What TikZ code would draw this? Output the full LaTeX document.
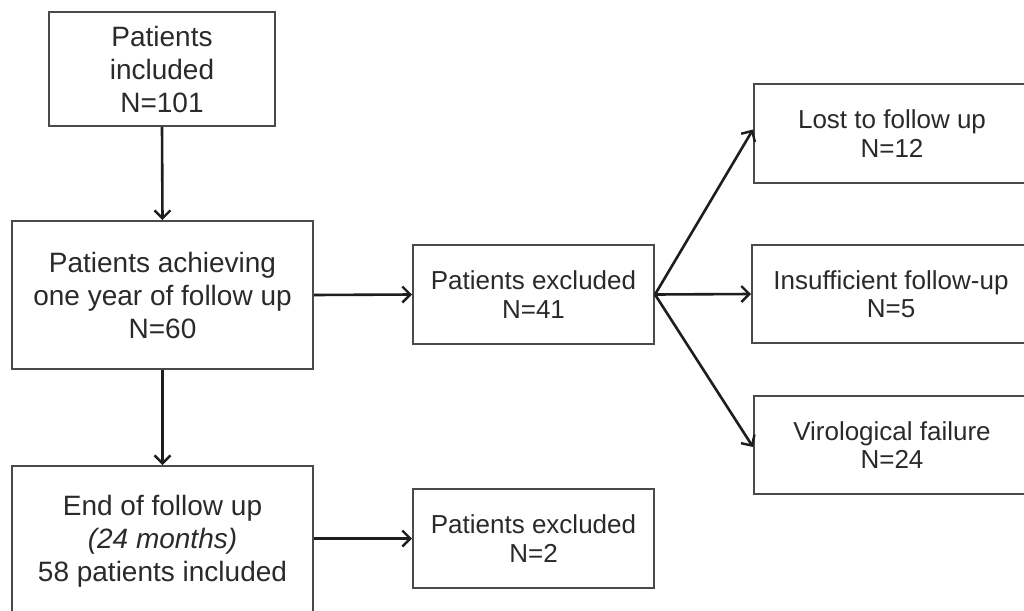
\documentclass[tikz,border=0pt]{standalone}
\usepackage{fontspec}
\setmainfont{Liberation Sans}
\usetikzlibrary{arrows.meta}
\definecolor{boxline}{HTML}{4A4A4A}
\definecolor{txt}{HTML}{2A2A2A}
\definecolor{arr}{HTML}{1E1E1E}
\begin{document}
\begin{tikzpicture}[x=1pt,y=-1pt,
  box/.style={draw=boxline,line width=2pt,fill=white,align=center,text=txt,inner sep=0pt},
  bigtext/.style={font=\fontsize{28}{33}\selectfont},
  smalltext/.style={font=\fontsize{26}{28.5}\selectfont},
  conn/.style={draw=arr,line width=2.6pt,-{Straight Barb[length=8pt,width=16pt,line width=2.4pt]}}]
\clip (0,0) rectangle (1024,610);
\fill[white] (0,0) rectangle (1024,610);
\node[box,bigtext,minimum width=226pt,minimum height=114pt] (inc) at (162,69) {Patients\\included\\N=101};
\node[box,bigtext,minimum width=301pt,minimum height=148pt] (year) at (162.5,295) {Patients achieving\\one year of follow up\\N=60};
\node[box,bigtext,minimum width=301pt,minimum height=150pt] (end) at (162.5,541) {End of follow up\\\itshape (24 months)\\58 patients included};
\node[box,smalltext,minimum width=241pt,minimum height=99pt] (ex41) at (533.5,294.5) {Patients excluded\\N=41};
\node[box,smalltext,minimum width=241pt,minimum height=99pt] (ex2) at (533.5,538.5) {Patients excluded\\N=2};
\node[box,smalltext,minimum width=276pt,minimum height=99pt] (lost) at (892,133.5) {Lost to follow up\\N=12};
\node[box,smalltext,minimum width=278pt,minimum height=98pt] (insuf) at (891,294) {Insufficient follow-up\\N=5};
\node[box,smalltext,minimum width=276pt,minimum height=98pt] (viro) at (892,445) {Virological failure\\N=24};
\draw[conn] (inc.south) -- (year.north);
\draw[conn] (year.south) -- (end.north);
\draw[conn] (year.east) -- (ex41.west);
\draw[conn] (end.east |- ex2.west) -- (ex2.west);
\draw[conn] (ex41.east) -- ([yshift=4pt]lost.west);
\draw[conn] (ex41.east) -- (insuf.west);
\draw[conn] (ex41.east) -- ([yshift=-2pt]viro.west);
\end{tikzpicture}
\end{document}
